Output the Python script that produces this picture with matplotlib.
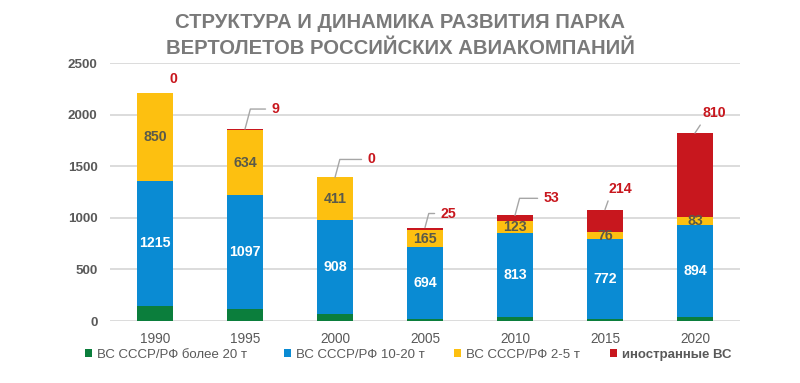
import matplotlib
matplotlib.use("Agg")
import matplotlib.pyplot as plt
import numpy as np

years = ["1990", "1995", "2000", "2005", "2010", "2015", "2020"]
heavy = [145, 120, 72, 22, 35, 18, 35]          # ВС СССР/РФ более 20 т
medium = [1215, 1097, 908, 694, 813, 772, 894]  # ВС СССР/РФ 10-20 т
light = [850, 634, 411, 165, 123, 76, 83]       # ВС СССР/РФ 2-5 т
foreign = [0, 9, 0, 25, 53, 214, 810]           # иностранные ВС
series_names = ["ВС СССР/РФ более 20 т", "ВС СССР/РФ 10-20 т",
                "ВС СССР/РФ 2-5 т", "иностранные ВС"]
title = "СТРУКТУРА И ДИНАМИКА РАЗВИТИЯ ПАРКА\nВЕРТОЛЕТОВ РОССИЙСКИХ АВИАКОМПАНИЙ"

FAM = ["Liberation Sans", "DejaVu Sans"]
plt.rcParams["font.family"] = FAM

c_green = "#0b7e3c"
c_blue = "#0a8bd3"
c_yellow = "#fdc010"
c_red = "#c8171e"
gray = "#7a7a7a"

fig = plt.figure(figsize=(8, 3.83), dpi=100)
ax = fig.add_axes([110/800, 1-321/383, 630/800, 258/383])

x = np.arange(len(years))
w = 0.4
h = np.array(heavy); m = np.array(medium); l = np.array(light); f = np.array(foreign)
b0 = ax.bar(x, h, w, color=c_green, label=series_names[0], zorder=3)
b1 = ax.bar(x, m, w, bottom=h, color=c_blue, label=series_names[1], zorder=3)
b2 = ax.bar(x, l, w, bottom=h+m, color=c_yellow, label=series_names[2], zorder=3)
b3 = ax.bar(x, f, w, bottom=h+m+l, color=c_red, label=series_names[3], zorder=3)

for i in range(len(years)):
    ax.text(x[i], h[i] + m[i]/2, str(medium[i]), ha="center", va="center",
            color="white", fontsize=10.2, fontweight="bold", zorder=4)
    ax.text(x[i], h[i] + m[i] + l[i]/2, str(light[i]), ha="center", va="center",
            color="#5a5a4a", fontsize=10.2, fontweight="bold", zorder=4)

# red labels with leader lines: offsets in pixels (dx, dy up)
offs = [(18, 14), (30, 20), (36, 18), (23, 14), (36, 17), (15, 21), (19, 20)]
lines = [False, True, True, True, True, True, True]
px2pt = 72/100
for i in range(len(years)):
    top = h[i] + m[i] + l[i] + f[i]
    dx, dy = offs[i]
    kw = {}
    if lines[i]:
        kw["arrowprops"] = dict(arrowstyle="-", color="#a6a6a6", lw=1.0,
                                shrinkA=2, shrinkB=0,
                                relpos=(0, 0.5) if i < 5 else (0.1, 0.1),
                                connectionstyle="angle,angleA=0,angleB=75,rad=0" if i < 5 else "arc3")
    ax.annotate(str(foreign[i]), xy=(x[i], top), xytext=(dx*px2pt, dy*px2pt),
                textcoords="offset points", ha="center", va="center",
                color=c_red, fontsize=10.2, fontweight="bold", zorder=5, **kw)

ax.set_xlim(-0.5, len(years) - 0.5)
ax.set_ylim(0, 2500)
ax.set_yticks(range(0, 2501, 500))
ax.set_xticks(x)
ax.set_xticklabels(years)
ax.grid(axis="y", color="#d9d9d9", lw=1.3, zorder=0)
for s in ax.spines.values():
    s.set_visible(False)
ax.tick_params(axis="y", length=0, pad=9, labelsize=9.6, labelcolor="#595959")
ax.tick_params(axis="x", length=0, pad=8, labelsize=9.8, labelcolor="#595959")
for t in ax.get_yticklabels():
    t.set_fontweight("bold")

fig.text(0.5, 1-22/383, title.split("\n")[0], ha="center", va="center", fontsize=14.6,
         fontweight="bold", color=gray)
fig.text(0.5, 1-49/383, title.split("\n")[1], ha="center", va="center", fontsize=14.6,
         fontweight="bold", color=gray)

# legend entries placed individually (left edge of the square in pixels)
leg_x = [85, 284, 454, 610]
handles = [b0, b1, b2, b3]
for k in range(4):
    lg = fig.legend([handles[k]], [series_names[k]], loc="center left",
                    bbox_to_anchor=(leg_x[k]/800, 1-355/383), frameon=False,
                    fontsize=9.5, handlelength=0.55, handleheight=0.55,
                    handletextpad=0.35, borderpad=0, borderaxespad=0,
                    labelcolor="#595959")
    if k == 3:
        lg.get_texts()[0].set_fontweight("bold")

fig.savefig("out.png", dpi=100)
